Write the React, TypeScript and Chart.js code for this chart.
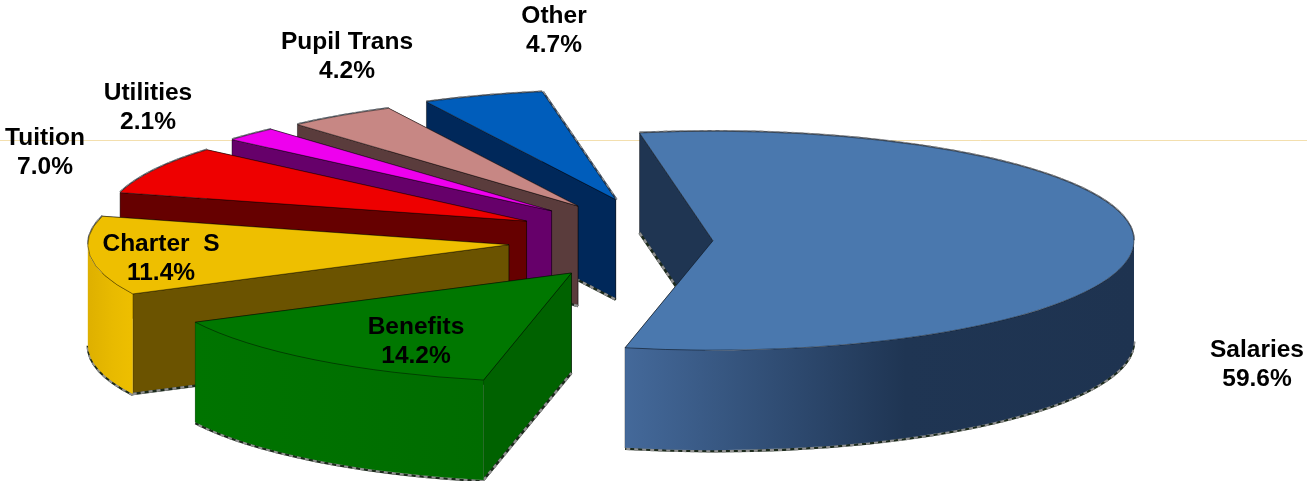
import React, { useEffect, useRef } from "react";
import { Chart, registerables } from "chart.js";

Chart.register(...registerables);

// Spending shares, as printed on the slice labels
const categories = ["Salaries", "Benefits", "Charter  S", "Tuition", "Utilities", "Pupil Trans", "Other"];
const shares = [59.6, 14.2, 11.4, 7.0, 2.1, 4.2, 4.7];

const topColors = ["#4a78ae", "#007700", "#eebf00", "#ee0000", "#ee00ee", "#c78784", "#005dbb"];
const wallColors = ["#1f3552", "#006200", "#6b5300", "#660000", "#66006a", "#5a3c3c", "#00285a"];
const rimStops = [
  ["#44699a", "#1f3553", "#1e3350"],
  ["#007400", "#007000", "#006c00"],
  ["#deb000", "#e8ba00", "#eebf00"],
  ["#660000", "#660000", "#660000"],
  ["#66006a", "#66006a", "#66006a"],
  ["#5a3c3c", "#5a3c3c", "#5a3c3c"],
  ["#00285a", "#00285a", "#00285a"],
];

// Radial pull of each slice away from the pie centre, in the pie's own plane
const explode = [45, 158, 160, 160, 163, 160, 166];

// Label anchors: centre x and first baseline
const labelX = [1257, 416, 161, 45, 148, 347, 554];
const labelY = [357, 334, 251, 145, 100, 49, 23];

const TILT = 0.26;
const DEPTH = 100;
const RADIUS = 421;
const RULE_Y = 140.5;
const FORESHORTEN = (3 * Math.PI) / 180;

// Slices nearer the viewer appear to turn a little, as they do in a real perspective view
function foreshorten(angle: number) {
  return angle - FORESHORTEN * (1 + Math.sin(angle));
}

function sliceGeometry(arc: any, index: number) {
  const mid = (arc.startAngle + arc.endAngle) / 2;
  return {
    x: arc.x + Math.cos(mid) * explode[index],
    y: arc.y + Math.sin(mid) * explode[index] * TILT,
    r: arc.outerRadius,
    start: arc.startAngle,
    end: arc.endAngle,
  };
}

function rimPoint(g: any, angle: number, drop = 0) {
  return [g.x + Math.cos(angle) * g.r, g.y + Math.sin(angle) * g.r * TILT + drop];
}

function dashedEdge(ctx: CanvasRenderingContext2D, trace: () => void, dark = "#1c2a1c", width = 2.5) {
  ctx.save();
  ctx.lineWidth = width;
  ctx.strokeStyle = dark;
  ctx.beginPath();
  trace();
  ctx.stroke();
  ctx.setLineDash([4, 4]);
  ctx.strokeStyle = "#8f8f8f";
  ctx.beginPath();
  trace();
  ctx.stroke();
  ctx.restore();
}

function drawWall(ctx: CanvasRenderingContext2D, g: any, angle: number, color: string, edge: boolean) {
  const [px, py] = rimPoint(g, angle);
  ctx.beginPath();
  ctx.moveTo(g.x, g.y);
  ctx.lineTo(px, py);
  ctx.lineTo(px, py + DEPTH);
  ctx.lineTo(g.x, g.y + DEPTH);
  ctx.closePath();
  ctx.fillStyle = color;
  ctx.fill();
  ctx.lineWidth = 0.8;
  ctx.strokeStyle = "rgba(0,0,0,0.55)";
  ctx.stroke();
  if (edge) {
    dashedEdge(ctx, () => {
      ctx.moveTo(px, py + DEPTH);
      ctx.lineTo(g.x, g.y + DEPTH);
    });
  }
}

function drawRim(ctx: CanvasRenderingContext2D, g: any, index: number) {
  // Only the part of the outer edge that faces the viewer has a visible side
  for (const shift of [0, Math.PI * 2, -Math.PI * 2]) {
    const lo = Math.max(g.start, shift);
    const hi = Math.min(g.end, Math.PI + shift);
    if (hi <= lo) continue;
    const a = rimPoint(g, lo);
    const b = rimPoint(g, hi);
    const left = Math.min(a[0], b[0]);
    const right = Math.max(a[0], b[0]);
    const grad = ctx.createLinearGradient(left, 0, right, 0);
    grad.addColorStop(0, rimStops[index][0]);
    grad.addColorStop(0.55, rimStops[index][1]);
    grad.addColorStop(1, rimStops[index][2]);
    dashedEdge(ctx, () => {
      ctx.ellipse(g.x, g.y + DEPTH + 1, g.r, g.r * TILT, 0, lo, hi);
    });
    ctx.beginPath();
    ctx.ellipse(g.x, g.y, g.r, g.r * TILT, 0, lo, hi);
    ctx.lineTo(b[0], b[1] + DEPTH);
    ctx.ellipse(g.x, g.y + DEPTH, g.r, g.r * TILT, 0, hi, lo, true);
    ctx.closePath();
    ctx.fillStyle = grad;
    ctx.fill();
  }
}

// Soft grey fringe along the far outline of a slice
function drawFarFringe(ctx: CanvasRenderingContext2D, g: any, index: number) {
  const back0 = Math.max(g.start, -Math.PI);
  const back1 = Math.min(g.end, 0);
  const traceBack = (lo: number, hi: number) => {
    if (hi > lo) dashedEdge(ctx, () => ctx.ellipse(g.x, g.y - 0.5, g.r, g.r * TILT, 0, lo, hi), "#5c6470", 1.6);
  };
  traceBack(back0, back1);
  traceBack(Math.max(g.start, Math.PI), Math.min(g.end, Math.PI * 2));
  if (index === categories.length - 1) {
    const [px, py] = rimPoint(g, g.end);
    dashedEdge(ctx, () => {
      ctx.moveTo(px + 1, py);
      ctx.lineTo(g.x + 1, g.y);
    }, "#3c4a5c", 1.8);
  }
}

const tiltedPie = {
  id: "tiltedPie",
  beforeDraw(chart: any) {
    const { ctx, width } = chart;
    ctx.save();
    ctx.strokeStyle = "#f3dfae";
    ctx.lineWidth = 1;
    ctx.beginPath();
    ctx.moveTo(0, RULE_Y);
    ctx.lineTo(width, RULE_Y);
    ctx.stroke();
    ctx.restore();
  },
  afterDatasetUpdate(chart: any) {
    for (const arc of chart.getDatasetMeta(0).data) {
      arc.startAngle = foreshorten(arc.startAngle);
      arc.endAngle = foreshorten(arc.endAngle);
      arc.circumference = arc.endAngle - arc.startAngle;
    }
  },
  beforeDatasetDraw(chart: any) {
    const { ctx } = chart;
    const arcs = chart.getDatasetMeta(0).data;
    for (let i = arcs.length - 1; i >= 0; i--) {
      const arc = arcs[i];
      const g = sliceGeometry(arc, i);
      ctx.save();
      drawWall(ctx, g, g.end, wallColors[i], false);
      drawWall(ctx, g, g.start, wallColors[i], true);
      drawFarFringe(ctx, g, i);
      drawRim(ctx, g, i);
      ctx.restore();

      // The library's own arc, squashed onto the tilted plane
      ctx.save();
      ctx.translate(g.x, g.y);
      ctx.scale(1, TILT);
      ctx.translate(-arc.x, -arc.y);
      arc.draw(ctx);
      ctx.restore();

      ctx.save();
      ctx.beginPath();
      ctx.moveTo(g.x, g.y);
      ctx.ellipse(g.x, g.y, g.r, g.r * TILT, 0, g.start, g.end);
      ctx.closePath();
      ctx.lineWidth = 0.8;
      ctx.strokeStyle = "rgba(0,0,0,0.55)";
      ctx.stroke();
      ctx.restore();
    }
    return false;
  },
  afterDraw(chart: any) {
    const { ctx } = chart;
    ctx.save();
    ctx.fillStyle = "#000";
    ctx.font = 'bold 24.5px "Liberation Sans", Arial, sans-serif';
    ctx.textAlign = "center";
    ctx.textBaseline = "alphabetic";
    categories.forEach((name, i) => {
      ctx.fillText(name, labelX[i], labelY[i]);
      ctx.fillText(shares[i].toFixed(1) + "%", labelX[i], labelY[i] + 29);
    });
    ctx.restore();
  },
};

export default function App() {
  const canvasRef = useRef<HTMLCanvasElement>(null);

  useEffect(() => {
    document.body.style.margin = "0";
    const chart = new Chart(canvasRef.current!, {
      type: "pie",
      data: {
        labels: categories,
        datasets: [
          {
            data: shares,
            backgroundColor: topColors,
            borderWidth: 0,
            clip: false,
          } as any,
        ],
      },
      options: {
        responsive: false,
        animation: false,
        rotation: -10,
        radius: RADIUS,
        layout: { padding: { left: 29 } },
        plugins: { legend: { display: false }, tooltip: { enabled: false } },
      },
      plugins: [tiltedPie],
    } as any);
    return () => chart.destroy();
  }, []);

  return <canvas ref={canvasRef} width={1307} height={481} style={{ display: "block" }} />;
}
